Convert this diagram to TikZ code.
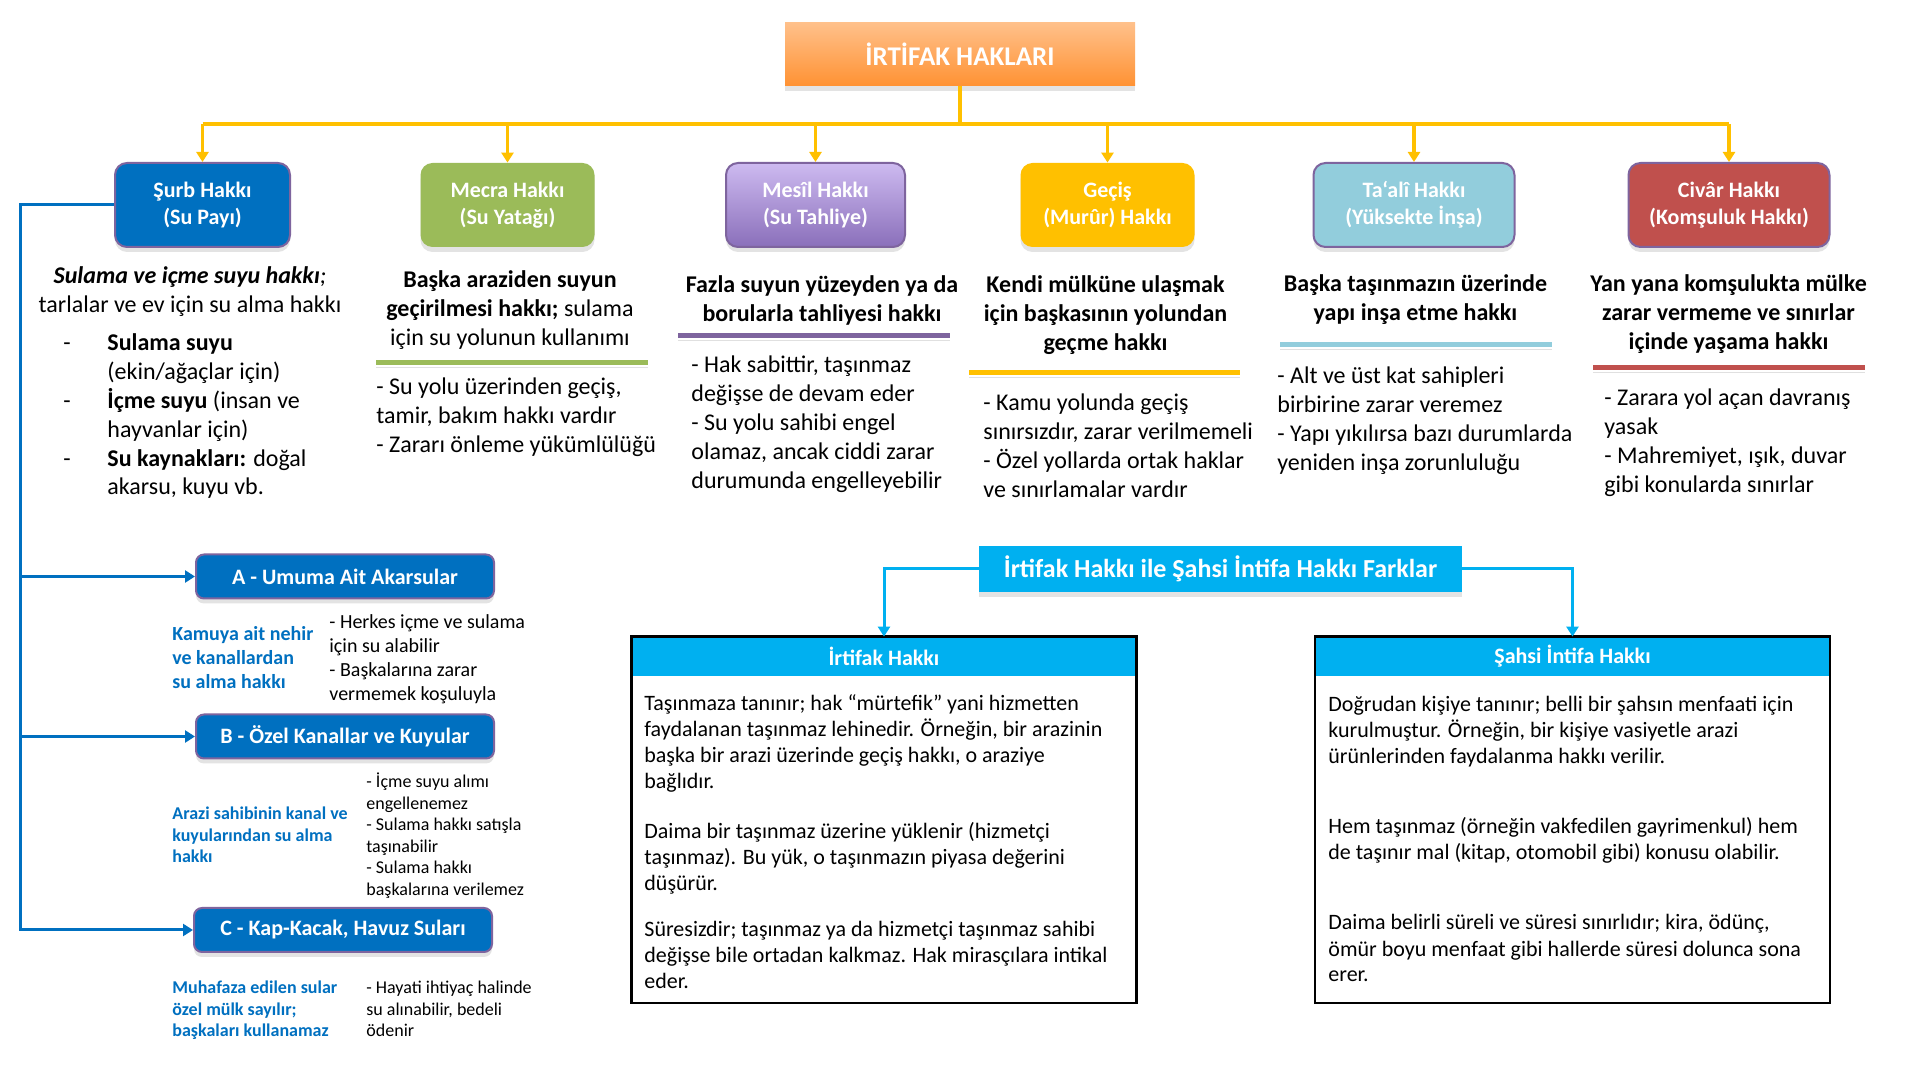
\documentclass[tikz,border=0pt]{standalone}
\usepackage{fontspec}
\setmainfont{Carlito}
\usetikzlibrary{arrows.meta}
\usetikzlibrary{shadows}
\definecolor{orangetop}{HTML}{FFC08A}
\definecolor{orangebot}{HTML}{FF9233}
\definecolor{surbblue}{HTML}{0070C0}
\definecolor{mecragreen}{HTML}{9BBB59}
\definecolor{mesiltop}{HTML}{CDBAF0}
\definecolor{mesilbot}{HTML}{8A6FBA}
\definecolor{gecisyellow}{HTML}{FFC000}
\definecolor{tealiblue}{HTML}{92CDDC}
\definecolor{civarred}{HTML}{C0504D}
\definecolor{edgepurple}{HTML}{7E649E}
\definecolor{farkcyan}{HTML}{00B0F0}
\tikzstyle{every node}=[inner sep=0pt,font=\fontsize{12}{14.4}\selectfont]
\tikzstyle{hakbox}=[rounded corners=6pt,minimum height=42pt,align=center,text=white,font=\bfseries\fontsize{11}{13.5}\selectfont,drop shadow={opacity=0.22,shadow xshift=0pt,shadow yshift=-2.5pt}]
\tikzstyle{purpleedge}=[draw=edgepurple,line width=1pt]
\tikzstyle{altbox}=[hakbox,rounded corners=4pt,minimum width=149pt,minimum height=22pt,fill=surbblue,purpleedge]
\tikzstyle{headtxt}=[anchor=base,align=center]
\tikzstyle{listtxt}=[anchor=base west,align=left]
\tikzstyle{uline}=[line width=2.5pt,preaction={draw=black!60,opacity=0.2,transform canvas={yshift=-2pt}}]
\tikzstyle{yline}=[draw=gecisyellow,line width=1.75pt]
\tikzstyle{yarrow}=[yline,-{Triangle[length=5pt,width=6pt]}]
\tikzstyle{barrow}=[draw=surbblue,line width=1.5pt,-{Triangle[length=5pt,width=6pt]}]
\tikzstyle{carrow}=[draw=farkcyan,line width=1.5pt,-{Triangle[length=5pt,width=6pt]}]
\tikzstyle{bluetxt}=[listtxt,text=surbblue,font=\bfseries\fontsize{9}{10.8}\selectfont]
\tikzstyle{smalltxt}=[listtxt,font=\fontsize{9}{10.8}\selectfont]
\tikzstyle{tablehead}=[fill=farkcyan,minimum height=19.5pt,text=white,font=\bfseries\fontsize{11}{13}\selectfont]
\tikzstyle{tabletxt}=[listtxt,font=\fontsize{11}{13}\selectfont]
\begin{document}
\begin{tikzpicture}[x=0.5pt,y=-0.5pt]
\fill[white] (0,0) rectangle (1919,1079);
\useasboundingbox (0,0) rectangle (1919,1079);

\node[hakbox,sharp corners,minimum width=175pt,minimum height=31.5pt,top color=orangetop,bottom color=orangebot,font=\bfseries\fontsize{13.5}{16}\selectfont] (title) at (960,54.5) {İRTİFAK HAKLARI};

\node[hakbox,minimum width=87.5pt,fill=surbblue,purpleedge] (surb) at (202.5,205) {Şurb Hakkı\\(Su Payı)};
\node[hakbox,minimum width=87pt,fill=mecragreen] (mecra) at (507.5,205) {Mecra Hakkı\\(Su Yatağı)};
\node[hakbox,minimum width=89.5pt,top color=mesiltop,bottom color=mesilbot,purpleedge] (mesil) at (815.5,205) {Mesîl Hakkı\\(Su Tahliye)};
\node[hakbox,minimum width=87pt,fill=gecisyellow] (gecis) at (1107.5,205) {Geçiş\\(Murûr) Hakkı};
\node[hakbox,minimum width=100.5pt,fill=tealiblue,purpleedge] (teali) at (1414,205) {Ta‘alî Hakkı\\(Yüksekte İnşa)};
\node[hakbox,minimum width=100.5pt,fill=civarred,purpleedge] (civar) at (1729,205) {Civâr Hakkı\\(Komşuluk Hakkı)};

\coordinate (bus) at (960,124);
\draw[yline] (title.south)--(bus) (bus -| surb.north)--(bus -| civar.north);
\draw[yarrow] (bus -| surb.north)--(surb.north);
\draw[yarrow] (bus -| mecra.north)--(mecra.north);
\draw[yarrow] (bus -| mesil.north)--(mesil.north);
\draw[yarrow] (bus -| gecis.north)--(gecis.north);
\draw[yarrow] (bus -| teali.north)--(teali.north);
\draw[yarrow] (bus -| civar.north)--(civar.north);

% text nodes sit on the baseline of their last line
\node[headtxt] (surbdesc) at (190,312.8) {\textbf{\textit{Sulama ve içme suyu hakkı}}\textit{;}\\tarlalar ve ev için su alma hakkı};
\node[listtxt] (surblist) at (63,495) {\makebox[22pt][l]{-}\textbf{Sulama suyu}\\\makebox[22pt]{}(ekin/ağaçlar için)\\\makebox[22pt][l]{-}\textbf{İçme suyu} (insan ve\\\makebox[22pt]{}hayvanlar için)\\\makebox[22pt][l]{-}\textbf{Su kaynakları:} doğal\\\makebox[22pt]{}akarsu, kuyu vb.};

\node[headtxt] (mecradesc) at (510,345.6) {\textbf{Başka araziden suyun}\\\textbf{geçirilmesi hakkı;} sulama\\için su yolunun kullanımı};
\draw[uline,mecragreen] (376,363)--(648,363);
\node[listtxt] (mecralist) at (376,452.6) {- Su yolu üzerinden geçiş,\\tamir, bakım hakkı vardır\\- Zararı önleme yükümlülüğü};

\node[headtxt,font=\bfseries\fontsize{12}{14.4}\selectfont] (mesildesc) at (822,321.8) {Fazla suyun yüzeyden ya da\\borularla tahliyesi hakkı};
\draw[uline,edgepurple] (678,336)--(950,336);
\node[listtxt] (mesillist) at (691,488.2) {- Hak sabittir, taşınmaz\\değişse de devam eder\\- Su yolu sahibi engel\\olamaz, ancak ciddi zarar\\durumunda engelleyebilir};

\node[headtxt,font=\bfseries\fontsize{12}{14.4}\selectfont] (gecisdesc) at (1105.5,350.6) {Kendi mülküne ulaşmak\\için başkasının yolundan\\geçme hakkı};
\draw[uline,gecisyellow] (969,373)--(1240,373);
\node[listtxt] (gecislist) at (983,497.4) {- Kamu yolunda geçiş\\sınırsızdır, zarar verilmemeli\\- Özel yollarda ortak haklar\\ve sınırlamalar vardır};

\node[headtxt,font=\bfseries\fontsize{12}{14.4}\selectfont] (tealidesc) at (1415.5,320.8) {Başka taşınmazın üzerinde\\yapı inşa etme hakkı};
\draw[uline,tealiblue] (1280,345)--(1552,345);
\node[listtxt] (tealilist) at (1277,470.4) {- Alt ve üst kat sahipleri\\birbirine zarar veremez\\- Yapı yıkılırsa bazı durumlarda\\yeniden inşa zorunluluğu};

\node[headtxt,font=\bfseries\fontsize{12}{14.4}\selectfont] (civardesc) at (1728.5,349.6) {Yan yana komşulukta mülke\\zarar vermeme ve sınırlar\\içinde yaşama hakkı};
\draw[uline,civarred] (1593,368)--(1865,368);
\node[listtxt] (civarlist) at (1604,492.4) {- Zarara yol açan davranış\\yasak\\- Mahremiyet, ışık, duvar\\gibi konularda sınırlar};

\node[altbox] (abox) at (345,576.5) {A - Umuma Ait Akarsular};
\node[altbox] (bbox) at (345,736.5) {B - Özel Kanallar ve Kuyular};
\node[altbox] (cbox) at (343,930) {C - Kap-Kacak, Havuz Suları};
\coordinate (spine) at (20,205);
\draw[barrow] (surb.west)--(spine)|-(cbox.west);
\draw[barrow] (spine |- abox.west)--(abox.west);
\draw[barrow] (spine |- bbox.west)--(bbox.west);

\node[bluetxt,font=\bfseries\fontsize{10}{12}\selectfont] (adesc) at (172,689) {Kamuya ait nehir\\ve kanallardan\\su alma hakkı};
\node[smalltxt,font=\fontsize{10}{12}\selectfont] (alist) at (329,701) {- Herkes içme ve sulama\\için su alabilir\\- Başkalarına zarar\\vermemek koşuluyla};
\node[bluetxt] (bdesc) at (172,862.7) {Arazi sahibinin kanal ve\\kuyularından su alma\\hakkı};
\node[smalltxt] (blist) at (366,895.5) {- İçme suyu alımı\\engellenemez\\- Sulama hakkı satışla\\taşınabilir\\- Sulama hakkı\\başkalarına verilemez};
\node[bluetxt] (cdesc) at (172,1036.7) {Muhafaza edilen sular\\özel mülk sayılır;\\başkaları kullanamaz};
\node[smalltxt] (clist) at (366,1036.7) {- Hayati ihtiyaç halinde\\su alınabilir, bedeli\\ödenir};

\node[minimum width=241.5pt,minimum height=23pt,fill=farkcyan,text=white,font=\bfseries\fontsize{13}{15}\selectfont,drop shadow={opacity=0.22,shadow xshift=0pt,shadow yshift=-2.5pt}] (farklar) at (1220.5,569) {İrtifak Hakkı ile Şahsi İntifa Hakkı Farklar};
\node[tablehead,minimum width=252pt] (irtifakhd) at (884,656.5) {İrtifak Hakkı};
\node[tablehead,minimum width=257pt] (sahsihd) at (1572.5,656.5) {Şahsi İntifa Hakkı};
\draw[line width=1.25pt] (irtifakhd.north west) rectangle (irtifakhd.east |- 0,1003);
\draw[line width=1.25pt] (sahsihd.north west) rectangle (sahsihd.east |- 0,1003);
\draw[carrow] (farklar.west)-|(irtifakhd.north);
\draw[carrow] (farklar.east)-|(sahsihd.north);

\node[tabletxt] (irtifak1) at (644,789) {Taşınmaza tanınır; hak “mürtefik” yani hizmetten\\faydalanan taşınmaz lehinedir. Örneğin, bir arazinin\\başka bir arazi üzerinde geçiş hakkı, o araziye\\bağlıdır.};
\node[tabletxt] (irtifak2) at (644,891) {Daima bir taşınmaz üzerine yüklenir (hizmetçi\\taşınmaz). Bu yük, o taşınmazın piyasa değerini\\düşürür.};
\node[tabletxt] (irtifak3) at (644,988) {Süresizdir; taşınmaz ya da hizmetçi taşınmaz sahibi\\değişse bile ortadan kalkmaz. Hak mirasçılara intikal\\eder.};
\node[tabletxt] (sahsi1) at (1328,764) {Doğrudan kişiye tanınır; belli bir şahsın menfaati için\\kurulmuştur. Örneğin, bir kişiye vasiyetle arazi\\ürünlerinden faydalanma hakkı verilir.};
\node[tabletxt] (sahsi2) at (1328,860) {Hem taşınmaz (örneğin vakfedilen gayrimenkul) hem\\de taşınır mal (kitap, otomobil gibi) konusu olabilir.};
\node[tabletxt] (sahsi3) at (1328,982) {Daima belirli süreli ve süresi sınırlıdır; kira, ödünç,\\ömür boyu menfaat gibi hallerde süresi dolunca sona\\erer.};
\end{tikzpicture}
\end{document}
